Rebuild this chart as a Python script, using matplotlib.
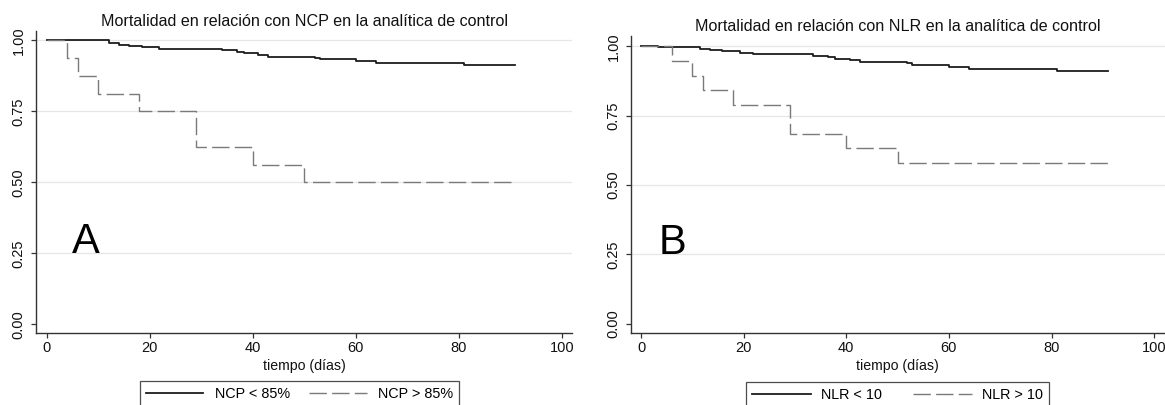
import matplotlib
matplotlib.use("Agg")
import matplotlib.pyplot as plt

plt.rcParams['font.family'] = ['Liberation Sans', 'DejaVu Sans']
plt.rcParams['lines.scale_dashes'] = False

# ---------------- data ----------------
titles = ["Mortalidad en relación con NCP en la analítica de control",
          "Mortalidad en relación con NLR en la analítica de control"]
panel_letters = ["A", "B"]
xlabel = "tiempo (días)"
x_ticks = [0, 20, 40, 60, 80, 100]
y_ticks = [0.00, 0.25, 0.50, 0.75, 1.00]
y_ticklabels = ["0.00", "0.25", "0.50", "0.75", "1.00"]

# Panel A
a_low_label = "NCP < 85%"
a_low_t = [0, 12, 14, 16, 18.4, 21.7, 34, 37, 38.2, 41, 43, 52, 53, 60, 64, 81, 91]
a_low_s = [1.0, 0.989, 0.985, 0.980, 0.976, 0.970, 0.965, 0.960, 0.954, 0.948,
           0.942, 0.937, 0.933, 0.927, 0.919, 0.912, 0.912]
a_high_label = "NCP > 85%"
a_high_t = [0, 4, 6, 10, 18, 29, 40, 50, 91]
a_high_s = [1.0, 0.9375, 0.875, 0.8125, 0.75, 0.625, 0.5625, 0.5, 0.5]

# Panel B
b_low_label = "NLR < 10"
b_low_t = [0, 3.4, 11.5, 13.4, 15.7, 19.3, 21.9, 33.6, 36.5, 37.8, 40.7, 42.7,
           51.8, 52.8, 60, 64, 81, 91]
b_low_s = [1.0, 0.997, 0.992, 0.987, 0.983, 0.977, 0.971, 0.966, 0.961, 0.955,
           0.951, 0.945, 0.939, 0.933, 0.927, 0.919, 0.913, 0.913]
b_high_label = "NLR > 10"
b_high_t = [0, 6, 10, 12, 18, 29, 40, 50, 91]
b_high_s = [1.0, 0.947, 0.895, 0.842, 0.789, 0.684, 0.632, 0.579, 0.579]

# ---------------- figure ----------------
W, H = 1165, 405
fig = plt.figure(figsize=(W / 100, H / 100), dpi=100)

def fx(px):
    return px / W

def fy(py):
    return 1 - py / H

SOLID_C = '#1c1c1c'
DASH_C = '#7a7a7a'
GRID_C = '#e6e6e6'
SPINE_C = '#333333'

panels = [
    dict(rect=[fx(36), fy(332.7), fx(572 - 36), (332.7 - 31) / H],
         xlim=(-2.1, 102.0), ylim=(-0.0296, 1.0327),
         low=(a_low_t, a_low_s, a_low_label), high=(a_high_t, a_high_s, a_high_label),
         title_xy=(fx(304.5), fy(21.7)), letter_xy=(4.8, 0.25),
         leg_xy=(fx(299.5), fy(381)), leg_kw=dict(handlelength=4.0, handletextpad=0.8, columnspacing=1.3)),
    dict(rect=[fx(631), fy(332.7), fx(W - 631), (332.7 - 36) / H],
         xlim=(-1.95, 102.1), ylim=(-0.0328, 1.0375),
         low=(b_low_t, b_low_s, b_low_label), high=(b_high_t, b_high_s, b_high_label),
         title_xy=(fx(897.5), fy(26.7)), letter_xy=(3.4, 0.25),
         leg_xy=(fx(897.5), fy(382)), leg_kw=dict(handlelength=4.1, handletextpad=0.7, columnspacing=2.1)),
]

for i, p in enumerate(panels):
    ax = fig.add_axes(p['rect'])
    ax.set_xlim(*p['xlim'])
    ax.set_ylim(*p['ylim'])
    for yv in y_ticks[1:]:
        ax.axhline(yv, color=GRID_C, lw=0.9, zorder=0)
    t, s, lab = p['low']
    l1, = ax.step(t, s, where='post', color=SOLID_C, lw=1.3, label=lab, zorder=3)
    t, s, lab = p['high']
    l2, = ax.step(t, s, where='post', color=DASH_C, lw=1.0, label=lab, zorder=4)
    l2.set_dashes((12.5, 3.8))

    for side in ['top', 'right']:
        ax.spines[side].set_visible(False)
    for side in ['left', 'bottom']:
        ax.spines[side].set_color(SPINE_C)
        ax.spines[side].set_linewidth(1.0)

    ax.set_xticks(x_ticks)
    ax.set_xticklabels([str(v) for v in x_ticks])
    ax.set_yticks(y_ticks)
    ax.set_yticklabels(y_ticklabels, rotation=90, va='center')
    ax.tick_params(axis='both', direction='out', length=3.6, width=0.9,
                   color=SPINE_C, labelsize=10.5, labelcolor='#111111')
    ax.tick_params(axis='x', pad=2.4)
    ax.tick_params(axis='y', pad=4.0)

    fig.text(p['title_xy'][0], p['title_xy'][1], titles[i], ha='center', va='center',
             fontsize=11.6, color='#111111')
    fig.text(p['title_xy'][0], fy(365.7), xlabel, ha='center', va='center',
             fontsize=10.2, color='#111111')
    ax.text(p['letter_xy'][0], p['letter_xy'][1], panel_letters[i], ha='left',
            va='baseline', fontsize=30, color='#000000')

    leg = ax.legend(handles=[l1, l2], ncol=2, loc='upper center',
                    bbox_to_anchor=p['leg_xy'], bbox_transform=fig.transFigure,
                    frameon=True, fancybox=False, edgecolor='#222222', fontsize=10.4,
                    borderpad=0.4, borderaxespad=0, **p['leg_kw'])
    leg.get_frame().set_linewidth(0.9)

fig.savefig("out.png", dpi=100)
